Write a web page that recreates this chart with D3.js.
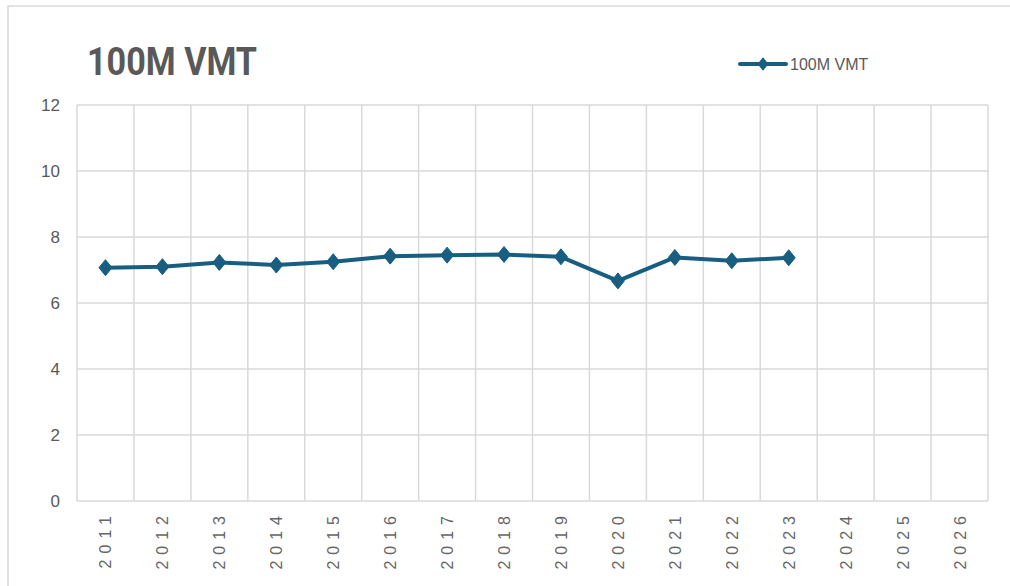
<!DOCTYPE html>
<meta charset="utf-8">
<html>
<head>
<title>100M VMT</title>
<script src="https://d3js.org/d3.v7.min.js"></script>
<style>
  body { margin: 0; background: #fff; }
  text { font-family: "Liberation Sans", Arial, sans-serif; fill: #595959; }
  .grid line { stroke: #d9d9d9; stroke-width: 1.5px; }
</style>
</head>
<body>
<svg width="1010" height="586"></svg>
<script>
// data
var years = ["2011","2012","2013","2014","2015","2016","2017","2018","2019","2020","2021","2022","2023","2024","2025","2026"];
var vmtYears = ["2011","2012","2013","2014","2015","2016","2017","2018","2019","2020","2021","2022","2023"];
var vmtValues = [7.07, 7.10, 7.23, 7.15, 7.25, 7.42, 7.45, 7.47, 7.40, 6.67, 7.38, 7.28, 7.37];
var yTicks = [0, 2, 4, 6, 8, 10, 12];
var seriesName = "100M VMT";

var svg = d3.select("svg"),
    margin = {left: 77, right: 22, top: 105, bottom: 85},
    width = +svg.attr("width"),
    height = +svg.attr("height");

// outer frame
svg.append("rect")
    .attr("x", 8).attr("y", 6)
    .attr("width", 1010).attr("height", 600)
    .attr("fill", "none")
    .attr("stroke", "#d9d9d9")
    .attr("stroke-width", 1.5);

var x = d3.scaleBand().domain(years).range([margin.left, width - margin.right]);
var y = d3.scaleLinear().domain([0, 12]).range([height - margin.bottom, margin.top]);

// gridlines
var grid = svg.append("g").attr("class", "grid");
grid.selectAll(".h").data(yTicks).enter().append("line")
    .attr("x1", margin.left).attr("x2", width - margin.right)
    .attr("y1", function(d) { return y(d); })
    .attr("y2", function(d) { return y(d); });
grid.selectAll(".v").data(years.concat(["end"])).enter().append("line")
    .attr("x1", function(d, i) { return margin.left + i * x.bandwidth(); })
    .attr("x2", function(d, i) { return margin.left + i * x.bandwidth(); })
    .attr("y1", y(12)).attr("y2", y(0));

// y axis labels
svg.append("g").selectAll("text").data(yTicks).enter().append("text")
    .attr("x", 60)
    .attr("y", function(d) { return y(d); })
    .attr("dy", "0.35em")
    .attr("text-anchor", "end")
    .style("font-size", "17px")
    .text(function(d) { return d; });

// x axis labels (rotated)
svg.append("g").selectAll("text").data(years).enter().append("text")
    .attr("transform", function(d) {
      return "translate(" + (x(d) + x.bandwidth() / 2 + 6) + "," + 510 + ") rotate(-90)";
    })
    .attr("text-anchor", "end")
    .style("font-size", "16px")
    .style("letter-spacing", "6px")
    .style("fill", "#666")
    .text(function(d) { return d; });

// line
var pts = vmtYears.map(function(d, i) { return {year: d, v: vmtValues[i]}; });
var line = d3.line()
    .x(function(d) { return x(d.year) + x.bandwidth() / 2; })
    .y(function(d) { return y(d.v); });

svg.append("path")
    .datum(pts)
    .attr("d", line)
    .attr("fill", "none")
    .attr("stroke", "#175e80")
    .attr("stroke-width", 4)
    .attr("stroke-linejoin", "round");

var diamond = "M0,-8L6.5,0L0,8L-6.5,0Z";
svg.append("g").selectAll("path").data(pts).enter().append("path")
    .attr("transform", function(d) {
      return "translate(" + (x(d.year) + x.bandwidth() / 2) + "," + y(d.v) + ")";
    })
    .attr("d", diamond)
    .attr("fill", "#175e80")
    .attr("stroke", "#175e80")
    .attr("stroke-width", 1);

// title
svg.append("text")
    .attr("x", 87).attr("y", 75)
    .attr("textLength", 170)
    .attr("lengthAdjust", "spacingAndGlyphs")
    .style("font-family", "Roboto, sans-serif")
    .style("font-weight", "bold")
    .style("font-size", "38px")
    .text(seriesName);

// legend
var lg = svg.append("g").attr("transform", "translate(740,64)");
lg.append("line").attr("x1", 0).attr("x2", 46).attr("y1", 0).attr("y2", 0)
    .attr("stroke", "#175e80").attr("stroke-width", 4).attr("stroke-linecap", "round");
lg.append("path").attr("d", diamond).attr("transform", "translate(23,0) scale(0.85)")
    .attr("fill", "#175e80");
lg.append("text").attr("x", 50).attr("y", 0).attr("dy", "0.35em")
    .style("font-size", "16px")
    .text(seriesName);
</script>
</body>
</html>
